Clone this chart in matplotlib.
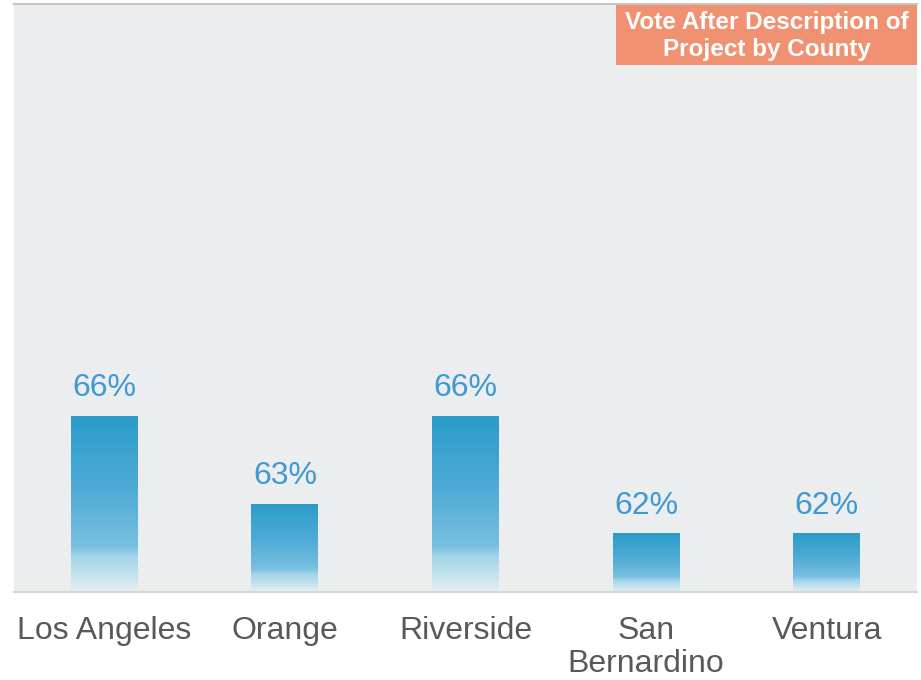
import numpy as np
from matplotlib import pyplot as plt
from matplotlib.colors import LinearSegmentedColormap

counties = ["Los Angeles", "Orange", "Riverside", "San\nBernardino", "Ventura"]
vote_pct = [66, 63, 66, 62, 62]
value_labels = ["66%", "63%", "66%", "62%", "62%"]
chart_title = "Vote After Description of\nProject by County"

plt.rcParams['font.family'] = ['Liberation Sans', 'DejaVu Sans']

# bar fill fades from solid blue at the top to near white at the base
bar_cmap = LinearSegmentedColormap.from_list(
    "bar_fade",
    [(0.0, "#e6eff3"), (0.08, "#c9e4ef"), (0.2, "#a3d4e9"),
     (0.26, "#78c0e0"), (0.6, "#4eaad5"), (1.0, "#2a9ccb")])
fade = np.linspace(0, 1, 256).reshape(-1, 1)

fig = plt.figure(figsize=(9.21, 6.8), dpi=100)
ax = fig.add_axes([14 / 921, 88 / 680, 903 / 921, 588 / 680])
ax.set_facecolor("#ecedee")

x = np.arange(len(counties))
bars = ax.bar(x, vote_pct, width=0.37, bottom=0, color="none", edgecolor="none")
ax.set_xlim(-0.5, len(counties) - 0.5)
ax.set_ylim(60, 80)

for rect, label in zip(bars.patches, value_labels):
    x0 = rect.get_x()
    x1 = x0 + rect.get_width()
    top = rect.get_height()
    img = ax.imshow(fade, extent=[x0, x1, 60, top], origin="lower",
                    aspect="auto", cmap=bar_cmap, zorder=2)
    img.set_clip_path(rect)
    ax.annotate(label, (x0 + rect.get_width() / 2, top), xytext=(0, 9),
                textcoords="offset points", ha="center", va="bottom",
                fontsize=23, color="#3d9ad3")

for side in ["left", "right"]:
    ax.spines[side].set_visible(False)
ax.spines["top"].set_color("#c6c6c6")
ax.spines["top"].set_linewidth(1.5)
ax.spines["bottom"].set_color("#d6d6d6")
ax.spines["bottom"].set_linewidth(1.5)

ax.set_yticks([])
ax.set_xticks(x)
ax.set_xticklabels(counties, fontsize=23, color="#595959", linespacing=1.15)
ax.tick_params(axis="x", length=0, pad=17)

# salmon title box in the top right corner
fig.patches.append(plt.Rectangle((616 / 921, 615 / 680), 301 / 921, 60 / 680,
                                 transform=fig.transFigure, facecolor="#f09272",
                                 edgecolor="none", zorder=1))
fig.text(767 / 921, 1 - 36 / 680, chart_title, ha="center", va="center",
         fontsize=17.5, fontweight="bold", color="white", linespacing=1.2,
         zorder=5)

fig.savefig("out.png", dpi=100)
